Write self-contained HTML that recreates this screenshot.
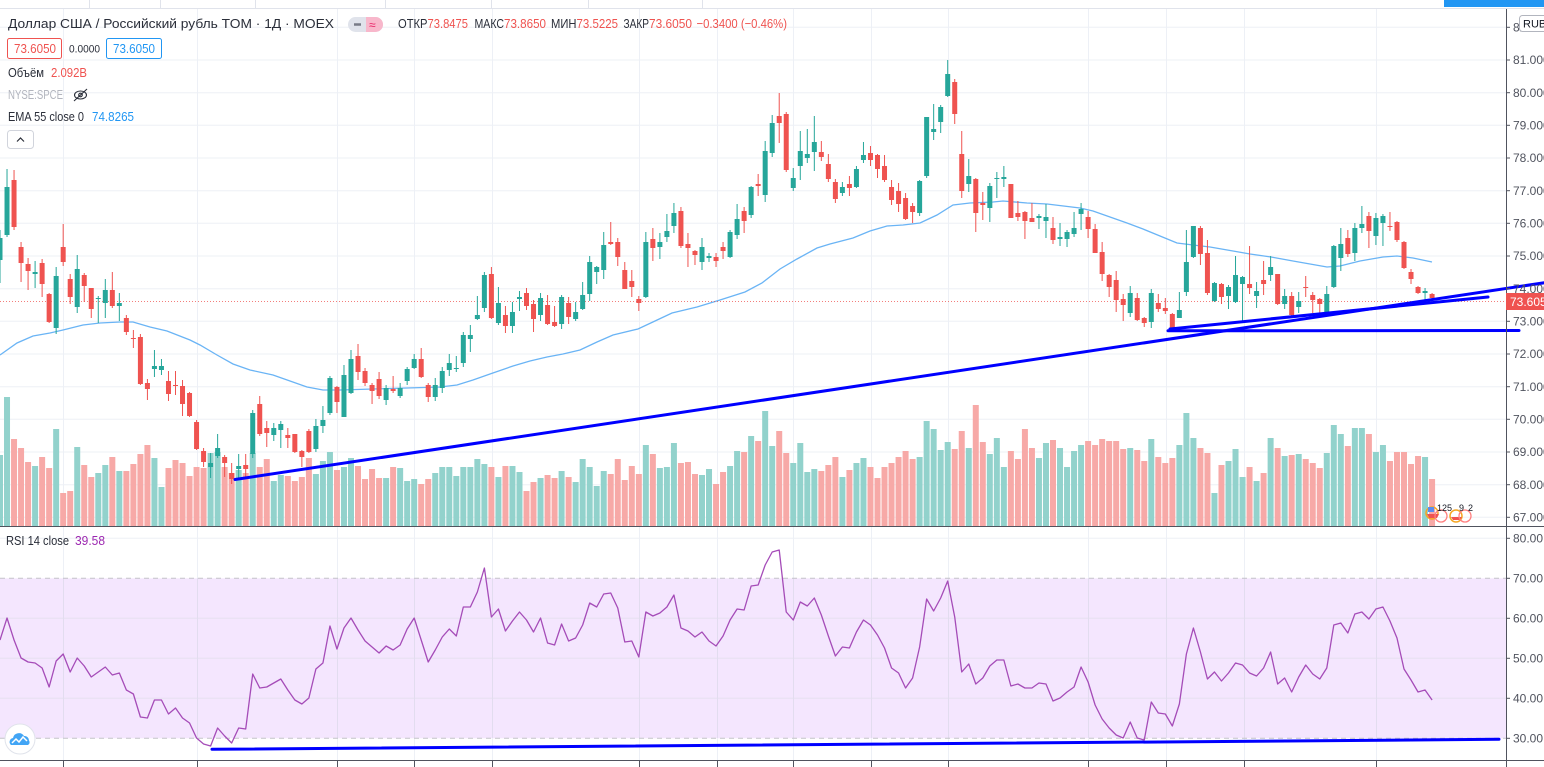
<!DOCTYPE html>
<html><head><meta charset="utf-8">
<style>
html,body{margin:0;padding:0;background:#fff;width:1544px;height:767px;overflow:hidden}
svg{display:block}
text{font-family:"Liberation Sans","DejaVu Sans",sans-serif}
</style></head><body>
<svg id="s" xmlns="http://www.w3.org/2000/svg" width="1544" height="767" viewBox="0 0 1544 767">
<rect width="1544" height="767" fill="#fff"/>
<!-- top strip -->
<line x1="0" y1="8.5" x2="1544" y2="8.5" stroke="#e0e3eb"/>
<g stroke="#e0e3eb">
<line x1="89.5" y1="0" x2="89.5" y2="8"/><line x1="160.5" y1="0" x2="160.5" y2="8"/><line x1="255.5" y1="0" x2="255.5" y2="8"/><line x1="385.5" y1="0" x2="385.5" y2="8"/><line x1="491.5" y1="0" x2="491.5" y2="8"/><line x1="588.5" y1="0" x2="588.5" y2="8"/><line x1="702.5" y1="0" x2="702.5" y2="8"/>
</g>
<rect x="1444" y="0" width="100" height="7" fill="#2196f3"/>

<!-- main grid -->
<g stroke="#edf0f6" stroke-width="1">
<line x1="0" x2="1506" y1="27.3" y2="27.3"/><line x1="0" x2="1506" y1="60" y2="60"/><line x1="0" x2="1506" y1="92.7" y2="92.7"/><line x1="0" x2="1506" y1="125.3" y2="125.3"/><line x1="0" x2="1506" y1="158" y2="158"/><line x1="0" x2="1506" y1="190.7" y2="190.7"/><line x1="0" x2="1506" y1="223.3" y2="223.3"/><line x1="0" x2="1506" y1="256" y2="256"/><line x1="0" x2="1506" y1="288.7" y2="288.7"/><line x1="0" x2="1506" y1="321.3" y2="321.3"/><line x1="0" x2="1506" y1="354" y2="354"/><line x1="0" x2="1506" y1="386.7" y2="386.7"/><line x1="0" x2="1506" y1="419.3" y2="419.3"/><line x1="0" x2="1506" y1="452" y2="452"/><line x1="0" x2="1506" y1="484.7" y2="484.7"/><line x1="0" x2="1506" y1="517.3" y2="517.3"/>
</g>
<g id="vgrid" stroke="#edf0f6" stroke-width="1">
<line x1="63.5" x2="63.5" y1="9" y2="761"/><line x1="197.5" x2="197.5" y1="9" y2="761"/><line x1="337.5" x2="337.5" y1="9" y2="761"/><line x1="414.5" x2="414.5" y1="9" y2="761"/><line x1="492.5" x2="492.5" y1="9" y2="761"/><line x1="639.5" x2="639.5" y1="9" y2="761"/><line x1="717.5" x2="717.5" y1="9" y2="761"/><line x1="793.5" x2="793.5" y1="9" y2="761"/><line x1="871.5" x2="871.5" y1="9" y2="761"/><line x1="948.5" x2="948.5" y1="9" y2="761"/><line x1="1088.5" x2="1088.5" y1="9" y2="761"/><line x1="1166.5" x2="1166.5" y1="9" y2="761"/><line x1="1244.5" x2="1244.5" y1="9" y2="761"/><line x1="1376.5" x2="1376.5" y1="9" y2="761"/>
</g>

<g id="vol"></g>
<polyline id="ema" fill="none" stroke="#6ab4f5" stroke-width="1.3" points=""/>
<line x1="0" y1="301.5" x2="1506" y2="301.5" stroke="#ef5350" stroke-width="1" stroke-dasharray="1 2" opacity="0.75"/>
<g id="cdl"></g>

<!-- event icons -->
<g>
<circle cx="1432" cy="513" r="6" fill="none" stroke="#f5a623" stroke-width="1.5"/>
<rect x="1428" y="507" width="6" height="5" fill="#5b8def"/>
<path d="M1427 514 h12 l-2 4 h-8z" fill="#ef5350"/>
<circle cx="1441" cy="516" r="6" fill="none" stroke="#ff7f7f" stroke-width="1.3"/>
<text x="1437" y="511" font-size="9" fill="#131722">125</text>
<circle cx="1456" cy="516" r="6" fill="none" stroke="#f5a623" stroke-width="1.5"/>
<path d="M1451 517 h11 l-2 3 h-7z" fill="#ef5350"/>
<circle cx="1465" cy="516" r="6" fill="none" stroke="#ff7f7f" stroke-width="1.3"/>
<text x="1459" y="511" font-size="9" fill="#131722">9</text>
<text x="1468" y="511" font-size="9" fill="#131722">2</text>
</g>

<!-- trend lines main -->
<g stroke="#0000ff" stroke-width="3" stroke-linecap="round" fill="none">
<line x1="235" y1="479.5" x2="1546" y2="282.5"/>
<line x1="1170" y1="329" x2="1488" y2="297"/>
<line x1="1168" y1="330.8" x2="1519" y2="330.5"/>
</g>

<!-- RSI pane -->
<rect x="0" y="578.3" width="1506" height="160" fill="#f4e6fe"/>
<g stroke="#e6e0f0" stroke-width="1">
<line x1="0" x2="1506" y1="538.3" y2="538.3" stroke="#edf0f6"/>
<line x1="0" x2="1506" y1="618.3" y2="618.3"/>
<line x1="0" x2="1506" y1="658.3" y2="658.3"/>
<line x1="0" x2="1506" y1="698.3" y2="698.3"/>
</g>
<g stroke="#e2dcef" stroke-width="1">
<line x1="63.5" x2="63.5" y1="578" y2="738"/><line x1="197.5" x2="197.5" y1="578" y2="738"/><line x1="337.5" x2="337.5" y1="578" y2="738"/><line x1="414.5" x2="414.5" y1="578" y2="738"/><line x1="492.5" x2="492.5" y1="578" y2="738"/><line x1="639.5" x2="639.5" y1="578" y2="738"/><line x1="717.5" x2="717.5" y1="578" y2="738"/><line x1="793.5" x2="793.5" y1="578" y2="738"/><line x1="871.5" x2="871.5" y1="578" y2="738"/><line x1="948.5" x2="948.5" y1="578" y2="738"/><line x1="1088.5" x2="1088.5" y1="578" y2="738"/><line x1="1166.5" x2="1166.5" y1="578" y2="738"/><line x1="1244.5" x2="1244.5" y1="578" y2="738"/><line x1="1376.5" x2="1376.5" y1="578" y2="738"/>
</g>
<line x1="0" x2="1506" y1="578.3" y2="578.3" stroke="#c4c4c8" stroke-dasharray="5 4"/>
<line x1="0" x2="1506" y1="738.3" y2="738.3" stroke="#c4c4c8" stroke-dasharray="5 4"/>
<polyline id="rsi" fill="none" stroke="#a54cb8" stroke-width="1.3" stroke-linejoin="round" points=""/>
<line x1="212" y1="749.3" x2="1499" y2="739.3" stroke="#0000ff" stroke-width="3" stroke-linecap="round"/>

<!-- TV logo -->
<circle cx="20" cy="739" r="15" fill="#fff" stroke="#e0e3eb"/>
<path d="M11 745 a4 4 0 0 1 2-7 a6 6 0 0 1 11-2 a4.5 4.5 0 0 1 5 4.5 a3 3 0 0 1 -1 4.5z" fill="#42a5f5"/>
<polyline points="12,743 16,739 19,742 23,737 27,741" fill="none" stroke="#fff" stroke-width="1.5"/>

<!-- pane borders & axis -->
<line x1="0" y1="526.5" x2="1544" y2="526.5" stroke="#50535e"/>
<line x1="0" y1="760.5" x2="1544" y2="760.5" stroke="#50535e"/>
<line x1="1506.5" y1="9" x2="1506.5" y2="767" stroke="#50535e"/>
<g stroke="#50535e">
<line x1="63.5" x2="63.5" y1="761" y2="767"/><line x1="197.5" x2="197.5" y1="761" y2="767"/><line x1="337.5" x2="337.5" y1="761" y2="767"/><line x1="414.5" x2="414.5" y1="761" y2="767"/><line x1="492.5" x2="492.5" y1="761" y2="767"/><line x1="639.5" x2="639.5" y1="761" y2="767"/><line x1="717.5" x2="717.5" y1="761" y2="767"/><line x1="793.5" x2="793.5" y1="761" y2="767"/><line x1="871.5" x2="871.5" y1="761" y2="767"/><line x1="948.5" x2="948.5" y1="761" y2="767"/><line x1="1088.5" x2="1088.5" y1="761" y2="767"/><line x1="1166.5" x2="1166.5" y1="761" y2="767"/><line x1="1244.5" x2="1244.5" y1="761" y2="767"/><line x1="1376.5" x2="1376.5" y1="761" y2="767"/>
<line x1="1506" x2="1510" y1="27.3" y2="27.3"/><line x1="1506" x2="1510" y1="60" y2="60"/><line x1="1506" x2="1510" y1="92.7" y2="92.7"/><line x1="1506" x2="1510" y1="125.3" y2="125.3"/><line x1="1506" x2="1510" y1="158" y2="158"/><line x1="1506" x2="1510" y1="190.7" y2="190.7"/><line x1="1506" x2="1510" y1="223.3" y2="223.3"/><line x1="1506" x2="1510" y1="256" y2="256"/><line x1="1506" x2="1510" y1="288.7" y2="288.7"/><line x1="1506" x2="1510" y1="321.3" y2="321.3"/><line x1="1506" x2="1510" y1="354" y2="354"/><line x1="1506" x2="1510" y1="386.7" y2="386.7"/><line x1="1506" x2="1510" y1="419.3" y2="419.3"/><line x1="1506" x2="1510" y1="452" y2="452"/><line x1="1506" x2="1510" y1="484.7" y2="484.7"/><line x1="1506" x2="1510" y1="517.3" y2="517.3"/>
<line x1="1506" x2="1510" y1="538.3" y2="538.3"/><line x1="1506" x2="1510" y1="578.3" y2="578.3"/><line x1="1506" x2="1510" y1="618.3" y2="618.3"/><line x1="1506" x2="1510" y1="658.3" y2="658.3"/><line x1="1506" x2="1510" y1="698.3" y2="698.3"/><line x1="1506" x2="1510" y1="738.3" y2="738.3"/>
</g>
<g font-size="12" fill="#50535e">
<text x="1513" y="31.5">82.000</text>
<text x="1513" y="64.2">81.000</text>
<text x="1513" y="96.9">80.000</text>
<text x="1513" y="129.5">79.000</text>
<text x="1513" y="162.2">78.000</text>
<text x="1513" y="194.9">77.000</text>
<text x="1513" y="227.5">76.000</text>
<text x="1513" y="260.2">75.000</text>
<text x="1513" y="292.9">74.000</text>
<text x="1513" y="325.5">73.000</text>
<text x="1513" y="358.2">72.000</text>
<text x="1513" y="390.9">71.000</text>
<text x="1513" y="423.5">70.000</text>
<text x="1513" y="456.2">69.000</text>
<text x="1513" y="488.9">68.000</text>
<text x="1513" y="521.5">67.000</text>
<text x="1513" y="542.5">80.00</text>
<text x="1513" y="582.5">70.00</text>
<text x="1513" y="622.5">60.00</text>
<text x="1513" y="662.5">50.00</text>
<text x="1513" y="702.5">40.00</text>
<text x="1513" y="742.5">30.00</text>
</g>
<rect x="1519.5" y="15.5" width="30" height="16" rx="3" fill="#fff" stroke="#b2b5be"/>
<text x="1523" y="27.5" font-size="11" fill="#131722">RUB</text>
<rect x="1506" y="293" width="38" height="17" fill="#ef5350"/>
<text x="1510" y="305.8" font-size="12" fill="#fff">73.605</text>

<!-- legend -->
<text x="8" y="28" font-size="13" fill="#2a2e39" textLength="326" lengthAdjust="spacingAndGlyphs">Доллар США / Российский рубль TOM · 1Д · MOEX</text>
<rect x="348" y="17" width="35" height="15" rx="7.5" fill="#e0e3eb"/>
<path d="M366 17 h9.5 a7.5 7.5 0 0 1 0 15 h-9.5z" fill="#f8b7cb"/>
<line x1="354" y1="24.5" x2="361" y2="24.5" stroke="#787b86" stroke-width="2.5"/>
<text x="369" y="29" font-size="12" fill="#e91e63">≈</text>
<g font-size="13">
<text x="398" y="28" fill="#2a2e39" textLength="29.5" lengthAdjust="spacingAndGlyphs">ОТКР</text>
<text x="427.5" y="28" fill="#ef5350" textLength="40.5" lengthAdjust="spacingAndGlyphs">73.8475</text>
<text x="474.5" y="28" fill="#2a2e39" textLength="29.5" lengthAdjust="spacingAndGlyphs">МАКС</text>
<text x="504" y="28" fill="#ef5350" textLength="42" lengthAdjust="spacingAndGlyphs">73.8650</text>
<text x="551" y="28" fill="#2a2e39" textLength="25.5" lengthAdjust="spacingAndGlyphs">МИН</text>
<text x="576.5" y="28" fill="#ef5350" textLength="41.5" lengthAdjust="spacingAndGlyphs">73.5225</text>
<text x="623.5" y="28" fill="#2a2e39" textLength="25.5" lengthAdjust="spacingAndGlyphs">ЗАКР</text>
<text x="649" y="28" fill="#ef5350" textLength="43" lengthAdjust="spacingAndGlyphs">73.6050</text>
<text x="696.5" y="28" fill="#ef5350" textLength="90.5" lengthAdjust="spacingAndGlyphs">−0.3400 (−0.46%)</text>
</g>
<rect x="7.5" y="38.5" width="54" height="20" rx="2" fill="#fff" stroke="#ef5350"/>
<text x="14" y="53" font-size="13" fill="#ef5350" textLength="42" lengthAdjust="spacingAndGlyphs">73.6050</text>
<text x="69" y="52.5" font-size="11" fill="#2a2e39" textLength="31" lengthAdjust="spacingAndGlyphs">0.0000</text>
<rect x="106.5" y="38.5" width="55" height="20" rx="2" fill="#fff" stroke="#2196f3"/>
<text x="113" y="53" font-size="13" fill="#2196f3" textLength="42" lengthAdjust="spacingAndGlyphs">73.6050</text>
<text x="8" y="77" font-size="13" fill="#2a2e39" textLength="36" lengthAdjust="spacingAndGlyphs">Объём</text>
<text x="51" y="77" font-size="13" fill="#ef5350" textLength="36" lengthAdjust="spacingAndGlyphs">2.092B</text>
<text x="8" y="99" font-size="13" fill="#b2b5be" textLength="55" lengthAdjust="spacingAndGlyphs">NYSE:SPCE</text>
<g fill="none" stroke="#2a2e39" stroke-width="1.1">
<ellipse cx="80.5" cy="95" rx="6" ry="4"/>
<circle cx="80.5" cy="95" r="1.8"/>
<line x1="74" y1="101" x2="87" y2="89"/>
</g>
<text x="8" y="121" font-size="13" fill="#2a2e39" textLength="76" lengthAdjust="spacingAndGlyphs">EMA 55 close 0</text>
<text x="92" y="121" font-size="13" fill="#2196f3" textLength="42" lengthAdjust="spacingAndGlyphs">74.8265</text>
<rect x="7.5" y="130.5" width="26" height="18" rx="3" fill="#fff" stroke="#d1d4dc"/>
<polyline points="17,141.5 20.5,138 24,141.5" fill="none" stroke="#2a2e39" stroke-width="1.2"/>
<text x="6" y="545" font-size="12.5" fill="#2a2e39" textLength="63" lengthAdjust="spacingAndGlyphs">RSI 14 close</text>
<text x="75" y="545" font-size="12.5" fill="#9c27b0" textLength="30" lengthAdjust="spacingAndGlyphs">39.58</text>
</svg>
<script>
(function(){
var CD=[[1,238,260,230,283],[1,187,235,169,237],[0,180,227,170,230],[0,247,263,242,282],[0,264,271,258,290],[1,272,274,261,288],[0,263,284,259,297],[0,294,322,293,323],[1,276,328,267,334],[0,247,262,224,266],
[0,279,297,274,304],[1,269,307,255,313],[0,275,286,273,302],[0,288,309,288,318],[1,298,299,296,323],[1,290,303,279,318],[0,290,306,272,308],[1,303,306,293,321],[0,318,332,315,335],[0,338,339,330,348],
[0,337,384,334,385],[0,383,389,379,400],[1,366,369,350,377],[1,366,370,359,375],[0,381,394,371,401],[0,385,386,371,395],[0,386,404,380,416],[0,393,416,392,417],[0,422,449,420,450],[0,451,462,448,467],
[1,463,467,453,478],[1,448,456,434,458],[0,457,463,455,477],[0,473,479,463,484],[1,466,469,454,478],[0,465,469,454,477],[1,413,454,410,458],[0,404,434,396,436],[0,428,433,421,447],[1,428,435,423,441],
[1,424,430,421,448],[0,435,438,428,448],[0,434,452,434,453],[0,451,457,450,467],[0,431,452,429,453],[1,426,449,419,452],[1,420,426,406,433],[1,378,413,376,415],[0,387,402,386,413],[1,375,417,365,417],
[1,359,393,350,394],[0,356,372,344,380],[0,371,383,368,386],[0,385,391,383,404],[0,379,396,372,399],[1,388,400,385,405],[0,389,391,376,393],[1,388,396,383,398],[1,369,381,367,385],[1,359,368,354,369],
[0,359,377,348,378],[0,385,397,383,402],[1,385,397,378,401],[1,371,388,367,393],[1,363,370,354,376],[1,368,369,356,372],[1,335,363,332,367],[1,335,339,325,352],[1,315,319,296,320],[1,275,308,272,312],
[0,274,318,267,319],[1,303,323,287,325],[0,315,326,306,333],[1,312,326,302,333],[1,297,299,291,311],[0,293,306,288,310],[0,304,319,300,332],[1,298,315,293,321],[0,305,324,295,325],[0,322,326,306,327],
[1,297,324,295,329],[0,303,317,297,324],[1,312,319,302,321],[1,295,309,282,310],[1,262,294,256,301],[1,267,272,266,284],[1,245,270,232,279],[0,242,244,222,245],[0,242,257,238,266],[0,270,289,262,289],
[0,281,287,270,297],[0,299,303,296,311],[1,242,297,232,298],[0,239,248,228,261],[1,242,247,233,259],[1,231,237,214,242],[1,213,226,203,233],[0,211,246,207,248],[0,244,248,233,267],[0,251,255,250,265],
[1,247,262,238,270],[1,256,258,253,262],[0,257,261,253,267],[0,247,251,242,259],[1,232,257,230,258],[1,219,235,204,239],[0,211,221,207,233],[1,187,215,186,218],[0,184,186,174,196],[1,151,195,141,202],
[1,123,153,115,157],[0,116,123,93,143],[0,114,170,112,172],[1,178,188,168,191],[1,151,166,131,180],[1,154,158,129,163],[1,142,152,116,171],[0,152,157,141,161],[0,164,179,154,182],[0,182,199,179,203],
[1,187,193,182,196],[0,184,188,176,196],[1,169,187,166,188],[1,155,160,142,163],[0,153,160,146,166],[0,155,169,154,178],[0,166,180,155,182],[0,187,200,180,205],[0,191,204,183,212],[0,198,219,193,220],
[0,206,212,203,223],[1,181,213,180,216],[1,117,176,117,178],[1,129,132,104,140],[1,107,122,105,133],[1,74,96,60,97],[0,82,114,79,124],[0,154,191,131,198],[1,176,184,159,192],[0,179,213,178,232],
[0,203,205,192,220],[1,186,208,183,222],[1,178,179,172,198],[1,177,179,166,187],[0,184,218,184,218],[0,213,217,201,221],[0,212,221,211,239],[0,218,222,203,222],[1,216,218,214,229],[1,217,221,204,238],
[0,228,240,217,244],[1,237,239,223,246],[1,232,239,230,247],[1,228,234,212,237],[1,209,214,203,230],[0,217,229,211,238],[0,229,253,224,253],[0,252,274,242,281],[0,275,287,274,297],[0,280,300,271,312],
[0,299,305,294,321],[1,293,313,286,317],[0,298,320,293,321],[0,318,323,317,327],[1,293,322,289,328],[0,303,309,294,312],[0,308,311,298,314],[0,314,328,313,332],[1,310,318,292,318],[1,262,292,230,296],
[1,226,257,226,258],[0,228,254,226,265],[0,253,293,240,295],[1,283,301,282,302],[0,284,297,283,304],[1,287,296,285,309],[1,275,302,256,303],[1,277,284,276,321],[0,284,288,246,294],[1,291,296,282,308],
[0,280,284,261,295],[1,267,275,256,281],[0,274,304,274,305],[1,296,304,289,309],[0,296,315,292,316],[1,301,307,292,313],[0,287,288,276,297],[0,295,300,292,313],[0,299,304,298,313],[1,294,312,286,312],
[1,246,287,245,288],[1,244,258,228,271],[0,238,254,230,257],[1,228,253,223,261],[1,224,228,206,233],[0,216,231,212,248],[1,218,236,213,245],[1,216,223,214,246],[0,226,227,212,231],[0,222,240,221,242],
[0,242,268,241,269],[0,272,279,269,284],[0,287,293,286,294],[1,291,293,288,300],[0,294,298,293,299]];
var VT=[455,397,439,448,462,466,457,468,429,493,491,447,465,477,473,465,457,471,471,464,454,445,458,487,468,460,463,476,467,468,453,452,467,473,470,473,453,467,459,481,475,476,481,477,458,474,461,452,470,467,458,466,479,469,478,478,467,468,481,479,484,479,473,467,467,476,467,467,459,464,467,477,466,466,472,491,482,478,475,478,471,477,482,459,467,486,471,474,459,480,466,474,445,454,468,467,443,463,462,474,475,469,484,472,466,451,452,436,441,411,446,431,453,463,443,472,469,471,465,457,477,470,463,458,467,478,467,463,457,451,459,457,421,429,450,442,449,431,448,405,442,454,438,467,451,459,429,448,458,443,440,448,467,451,445,441,445,439,441,441,449,448,450,461,439,457,463,458,445,413,438,448,453,493,465,461,449,477,467,481,473,438,448,456,455,454,459,463,468,453,425,434,446,428,428,434,452,445,461,452,452,464,456,457,479];
var RS=[640,618,640,658,662,663,668,687,661,654,672,658,666,677,672,667,675,673,690,694,717,718,700,700,714,708,718,723,738,744,746,728,736,743,728,729,674,688,687,683,679,690,700,704,698,669,663,626,649,628,618,630,641,647,653,646,650,645,629,618,640,662,650,637,629,636,607,607,592,568,617,609,631,621,612,620,632,618,643,645,624,641,638,625,603,607,594,593,608,642,641,657,612,616,613,607,595,628,631,637,632,641,646,636,620,609,610,586,585,565,552,550,612,620,602,606,598,615,636,656,647,648,632,620,625,635,648,668,673,688,678,647,599,611,598,581,617,672,664,684,678,666,660,660,686,684,688,688,683,684,701,698,692,687,667,682,705,719,728,735,738,722,738,740,702,713,714,726,704,654,628,652,679,672,681,673,663,665,673,676,668,652,684,678,692,677,665,674,679,668,625,623,633,614,612,619,609,607,621,638,669,680,692,690,700];
var EMA=[[0,355],[17,343],[33,336],[50,333],[63,330],[83,325],[100,323],[120,322],[133,322],[150,327],[167,331],[190,340],[200,345],[217,355],[233,364],[250,370],[273,375],[290,381],[307,387],[323,390],[340,390],[373,389],[407,388],[440,387],[457,385],[473,380],[490,374],[513,366],[530,361],[547,357],[563,354],[580,350],[597,342],[613,335],[638,329],[655,321],[672,313],[697,307],[720,300],[745,292],[762,283],[780,269],[797,259],[817,248],[830,244],[853,238],[870,231],[887,226],[903,225],[920,223],[937,215],[953,205],[970,203],[993,202],[1003,201],[1027,203],[1047,204],[1080,208],[1093,211],[1110,217],[1127,223],[1143,229],[1160,236],[1177,243],[1193,245],[1210,247],[1233,251],[1250,254],[1271,257],[1293,261],[1310,264],[1327,267],[1340,266],[1360,261],[1383,257],[1397,256],[1413,258],[1432,262]];
var NS='http://www.w3.org/2000/svg';
function mk(t,a,p){var e=document.createElementNS(NS,t);for(var k in a)e.setAttribute(k,a[k]);p.appendChild(e);return e;}
var gv=document.getElementById('vol'),gc=document.getElementById('cdl');
var SP=7.02;
for(var i=0;i<CD.length;i++){
 var c=CD[i],x=i*SP;
 var col=c[0]?'#26a69a':'#ef5350',vc=c[0]?'#92d2cc':'#f7a9a7';
 mk('rect',{x:(x-3).toFixed(2),y:VT[i],width:6,height:526-VT[i],fill:vc},gv);
 mk('line',{x1:x.toFixed(2),y1:c[3],x2:x.toFixed(2),y2:c[4],stroke:col,'stroke-width':1},gc);
 mk('rect',{x:(x-2.5).toFixed(2),y:c[1],width:5,height:Math.max(1,c[2]-c[1]),fill:col},gc);
}
var p=[];for(var j=0;j<RS.length;j++)p.push((j*SP).toFixed(2)+','+RS[j]);
document.getElementById('rsi').setAttribute('points',p.join(' '));
var q=[];for(var k=0;k<EMA.length;k++)q.push(EMA[k][0]+','+EMA[k][1]);
document.getElementById('ema').setAttribute('points',q.join(' '));
})();
</script>
</body></html>
